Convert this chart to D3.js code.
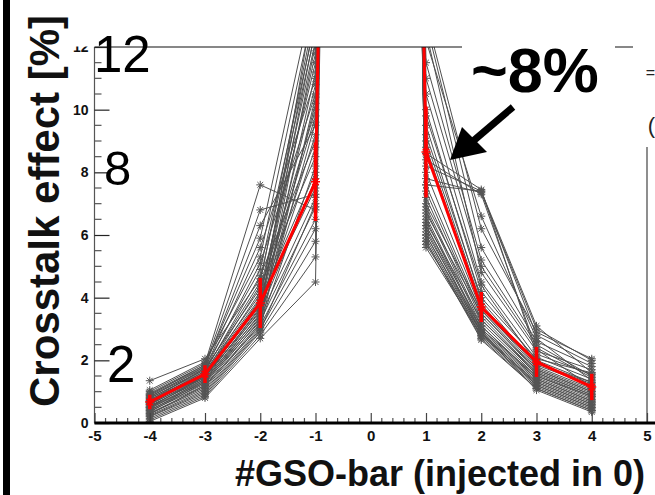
<!DOCTYPE html>
<html><head><meta charset="utf-8">
<script src="https://cdn.jsdelivr.net/npm/d3@7"></script>
<style>body{margin:0;background:#fff;} svg{display:block;font-family:"Liberation Sans",Arial,Helvetica,sans-serif;}</style>
</head><body><svg id="c" width="655" height="495"></svg>
<script>
// x positions of the GSO bars (0 = injected bar)
const xPositions = [-4, -3, -2, -1, 0, 1, 2, 3, 4];
const injectedValue = 100;
// crosstalk [%] per channel, one entry per channel, per bar
const valsM4 = [1.35,1.05,1.00,0.95,0.92,0.90,0.88,0.85,0.82,0.80,0.78,0.75,0.72,0.70,0.70,0.68,0.65,0.63,0.60,0.60,0.58,0.55,0.52,0.50,0.50,0.48,0.45,0.42,0.40,0.38,0.35,0.32,0.30,0.28,0.25,0.22,0.20,0.15,0.10,0.05];
const valsM3 = [2.05,1.95,1.90,1.85,1.80,1.85,1.75,1.70,1.80,1.65,1.70,1.60,1.75,1.55,1.65,1.60,1.50,1.55,1.45,1.60,1.50,1.40,1.45,1.35,1.50,1.30,1.40,1.25,1.35,1.20,1.30,1.15,1.10,1.20,1.05,1.00,0.95,0.90,0.85,0.80];
const valsM2 = [4.6,5.3,7.6,6.8,6.3,5.9,5.6,5.1,4.9,4.7,4.5,4.4,4.3,4.2,4.1,4.0,3.95,3.9,3.85,3.8,3.75,3.7,3.65,3.6,3.55,3.5,3.45,3.4,3.35,3.3,3.25,3.2,3.15,3.1,3.05,3.0,2.95,2.9,2.8,2.7];
const valsM1 = [12.5,13.5,6.8,7.3,9.5,14.0,11.0,10.5,12.8,9.0,13.2,8.5,11.5,10.0,12.2,9.8,8.0,13.0,7.5,11.8,9.2,10.8,12.6,8.8,7.8,13.8,10.2,7.2,11.2,9.6,6.9,12.1,8.2,6.5,10.4,6.2,7.0,5.8,5.3,4.5];
const valsP1 = [12.8,13.0,7.6,8.2,7.8,12.5,11.5,8.6,11.0,10.5,12.2,10.0,9.8,9.5,9.2,9.0,8.8,8.4,8.0,7.6,7.4,7.2,7.0,6.9,6.8,6.7,6.6,6.5,6.4,6.3,6.2,6.1,6.0,5.9,5.8,5.7,5.6,6.3,6.0,5.8];
const valsP2 = [5.6,6.2,7.4,7.4,7.35,4.8,5.2,7.45,5.0,4.5,6.6,4.2,4.4,3.9,4.0,3.8,3.7,7.3,3.6,3.5,3.4,3.3,3.6,3.2,3.1,3.5,3.0,2.95,3.3,2.9,2.85,3.0,2.8,2.75,2.65,2.9,2.8,3.1,2.9,2.7];
const valsP3 = [2.6,2.9,3.1,2.8,3.0,2.3,2.5,2.2,2.4,2.1,2.7,2.0,1.9,1.85,2.05,1.8,1.75,2.35,1.7,1.65,1.6,1.55,1.9,1.5,1.45,1.7,1.4,1.35,1.6,1.3,1.25,1.5,1.2,1.15,1.1,1.05,1.3,1.4,1.2,1.1];
const valsP4 = [1.8,2.05,1.6,1.9,2.0,1.7,1.5,1.55,1.45,1.4,1.35,1.3,1.25,1.2,1.6,1.1,1.05,1.15,1.0,0.95,0.9,0.85,1.3,0.8,0.75,1.0,0.7,0.65,0.9,0.6,0.55,0.85,0.5,0.45,0.4,0.35,0.6,0.7,0.5,0.4];
// mean and its spread
const meanVals = [0.67, 1.56, 3.83, 7.7, injectedValue, 8.65, 3.7, 1.95, 1.15];
const meanErr  = [0.23, 0.28, 0.80, 1.25, 0, 1.45, 0.48, 0.48, 0.42];
// axis ticks
const xTicks = [-5,-4,-3,-2,-1,0,1,2,3,4,5];
const yTicks = [0,2,4,6,8,10,12];

const svg = d3.select("#c");
const x = d3.scaleLinear().domain([-5, 5]).range([94.5, 647]);
const y = d3.scaleLinear().domain([0, 12]).range([423, 47]);

svg.append("defs").append("clipPath").attr("id","plot")
  .append("rect").attr("x",94.5).attr("y",47).attr("width",647-94.5).attr("height",423-47);

const allCols = [valsM4, valsM3, valsM2, valsM1, null, valsP1, valsP2, valsP3, valsP4];
const series = valsM4.map((_, i) => xPositions.map((xp, j) => [xp, allCols[j] ? allCols[j][i] : injectedValue]));
const line = d3.line().x(d => x(d[0])).y(d => y(d[1]));

const star = s => { const k = s*0.72; return `M${-s},0L${s},0M0,${-s}L0,${s}M${-k},${-k}L${k},${k}M${-k},${k}L${k},${-k}`; };

const g = svg.append("g").attr("clip-path","url(#plot)");
g.selectAll("path.ch").data(series).join("path").attr("class","ch")
  .attr("d", line).attr("fill","none").attr("stroke","#505050").attr("stroke-width",1);
series.forEach(s => {
  g.selectAll(null).data(s.filter(d => d[0] !== 0)).join("path")
    .attr("transform", d => `translate(${x(d[0])},${y(d[1])})`)
    .attr("d", star(4)).attr("stroke","#555").attr("stroke-width",1).attr("fill","none");
});
const meanPts = xPositions.map((xp, j) => [xp, meanVals[j], meanErr[j]]);
g.append("path").datum(meanPts).attr("d", line).attr("fill","none").attr("stroke","#ff0000").attr("stroke-width",3);
const ep = meanPts.filter(d => d[0] !== 0);
g.selectAll("line.err").data(ep).join("line").attr("class","err")
  .attr("x1", d => x(d[0])).attr("x2", d => x(d[0]))
  .attr("y1", d => y(d[1]-d[2])).attr("y2", d => y(d[1]+d[2]))
  .attr("stroke","#ff0000").attr("stroke-width",3.5);
g.selectAll("path.mstar").data(ep).join("path").attr("class","mstar")
  .attr("transform", d => `translate(${x(d[0])},${y(d[1])})`)
  .attr("d", star(4.5)).attr("stroke","#ff0000").attr("stroke-width",1.5).attr("fill","none");

// frame
svg.append("line").attr("x1",94.5).attr("x2",647).attr("y1",47).attr("y2",47).attr("stroke","#111").attr("stroke-width",1.2);
svg.append("line").attr("x1",647).attr("x2",647).attr("y1",47).attr("y2",423).attr("stroke","#444").attr("stroke-width",1.2);
svg.append("line").attr("x1",94.5).attr("x2",94.5).attr("y1",47).attr("y2",423).attr("stroke","#555").attr("stroke-width",1.2);

// y axis
const ya = svg.append("g").attr("transform","translate(94.5,0)")
  .call(d3.axisLeft(y).tickValues(yTicks).tickSize(-15).tickPadding(6).tickFormat(d => String(d)));
ya.select(".domain").remove();
ya.selectAll(".tick line").attr("stroke","#222").attr("stroke-width",1.2);
ya.selectAll("text").attr("font-size",14).attr("font-weight","bold").attr("fill","#111").attr("font-family","Liberation Sans, Arial, sans-serif");
svg.append("g").selectAll("line").data(d3.range(0, 12.01, 0.5).filter(v => v % 2 !== 0)).join("line")
  .attr("x1",94.5).attr("x2",101.5).attr("y1",d=>y(d)).attr("y2",d=>y(d)).attr("stroke","#555").attr("stroke-width",1.2);
svg.append("rect").attr("x",62).attr("y",30).attr("width",32).attr("height",16.5).attr("fill","#fff");

// x axis
const xa = svg.append("g").attr("transform","translate(0,423)")
  .call(d3.axisBottom(x).tickValues(xTicks).tickSize(-10).tickPadding(7).tickFormat(d => String(d)));
xa.select(".domain").remove();
xa.selectAll(".tick line").attr("stroke","#444").attr("stroke-width",1.2);
xa.selectAll("text").attr("font-size",15).attr("font-weight","bold").attr("fill","#111").attr("font-family","Liberation Sans, Arial, sans-serif");
svg.append("g").selectAll("line").data(d3.range(-5, 5.001, 0.2).filter(v => Math.abs(v - Math.round(v)) > 0.01)).join("line")
  .attr("x1",d=>x(d)).attr("x2",d=>x(d)).attr("y1",423).attr("y2",418).attr("stroke","#555").attr("stroke-width",1.2);
svg.append("line").attr("x1",94.5).attr("x2",655).attr("y1",423).attr("y2",423).attr("stroke","#000").attr("stroke-width",3);

// titles
svg.append("text").attr("transform","translate(59,211) rotate(-90)").attr("text-anchor","middle")
  .attr("font-size",42).attr("font-weight","bold").attr("fill","#111").text("Crosstalk effect [%]");
svg.append("text").attr("x",235).attr("y",486).attr("font-size",36).attr("font-weight","bold").attr("fill","#111")
  .text("#GSO-bar (injected in 0)");

// slide border bar
svg.append("rect").attr("x",3).attr("y",0).attr("width",7).attr("height",495).attr("fill","#000");

// big overlaid numbers
svg.append("text").attr("x",94).attr("y",72).attr("font-size",51).attr("fill","#000").text("12");
svg.append("text").attr("x",104).attr("y",185).attr("font-size",49).attr("fill","#000").text("8");
svg.append("text").attr("x",107).attr("y",382).attr("font-size",51).attr("fill","#000").text("2");

// annotation
svg.append("rect").attr("x",462).attr("y",38).attr("width",153).attr("height",14).attr("fill","#fff");
svg.append("rect").attr("x",633).attr("y",38).attr("width",22).attr("height",109).attr("fill","#fff");
svg.append("text").attr("x",471).attr("y",92).attr("font-size",63).attr("font-weight","bold").attr("fill","#000").text("~8%");
svg.append("line").attr("x1",513).attr("y1",107).attr("x2",472).attr("y2",142).attr("stroke","#000").attr("stroke-width",7);
svg.append("path").attr("d","M450,160L462,127L487,152Z").attr("fill","#000");
svg.append("text").attr("x",655).attr("y",78).attr("text-anchor","end").attr("font-size",16).attr("fill","#222").text("=");
svg.append("text").attr("x",655).attr("y",133).attr("text-anchor","end").attr("font-size",22).attr("fill","#222").text("(");
</script></body></html>
